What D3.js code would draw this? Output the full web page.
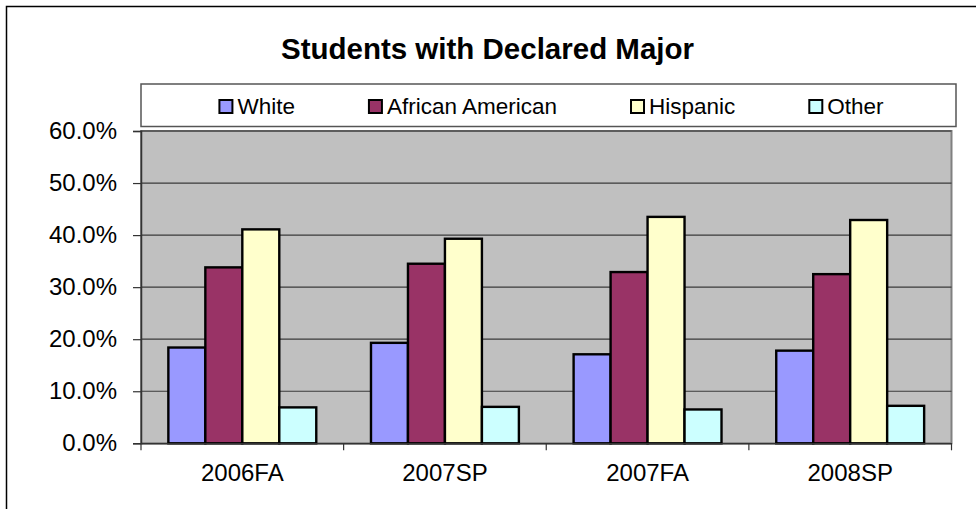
<!DOCTYPE html>
<html>
<head>
<meta charset="utf-8">
<script src="https://cdn.jsdelivr.net/npm/d3@7"></script>
<style>
  html, body { margin: 0; background: #fff; overflow: hidden; }
  svg { display: block; font-family: "Liberation Sans", Arial, sans-serif; }
</style>
</head>
<body>
<script>
var width = 976;
var height = 509;

// data
var categories = ["2006FA", "2007SP", "2007FA", "2008SP"];
var seriesNames = ["White", "African American", "Hispanic", "Other"];
var white = [18.4, 19.3, 17.1, 17.8];
var africanAmerican = [33.8, 34.5, 32.9, 32.5];
var hispanic = [41.1, 39.3, 43.5, 42.9];
var other = [6.9, 7.0, 6.5, 7.2];
var yTicks = [0, 10, 20, 30, 40, 50, 60];

var seriesValues = [white, africanAmerican, hispanic, other];
var colors = ["#9999FF", "#993366", "#FFFFCC", "#CCFFFF"];

var svg = d3.select("body")
    .append("svg")
    .attr("width", width)
    .attr("height", height);

// outer chart frame (cropped at right/bottom)
svg.append("rect")
    .attr("x", 6.5).attr("y", 6.5)
    .attr("width", 1000).attr("height", 600)
    .attr("fill", "#fff")
    .attr("stroke", "#000")
    .attr("stroke-width", 1.5);

var plot = { left: 141, right: 951.5, top: 131, bottom: 443.3 };

// title
svg.append("text")
    .attr("x", 487.5)
    .attr("y", 58.5)
    .attr("text-anchor", "middle")
    .attr("font-size", 29.5)
    .attr("font-weight", "bold")
    .text("Students with Declared Major");

// scales
var x0 = d3.scaleBand()
    .domain(categories)
    .range([plot.left, plot.right])
    .paddingInner(0)
    .paddingOuter(0);

var x1 = d3.scaleBand()
    .domain(seriesNames)
    .range([0, x0.bandwidth()])
    .paddingInner(0)
    .paddingOuter(0.74);

var yScale = d3.scaleLinear()
    .domain([0, 60])
    .range([plot.bottom, plot.top]);

// plot background
svg.append("rect")
    .attr("x", plot.left)
    .attr("y", plot.top)
    .attr("width", plot.right - plot.left)
    .attr("height", plot.bottom - plot.top)
    .attr("fill", "#C0C0C0")
    .attr("stroke", "#808080")
    .attr("stroke-width", 2);

// gridlines
svg.selectAll(".grid")
    .data(yTicks.filter(function (d) { return d > 0; }))
    .enter()
    .append("line")
    .attr("class", "grid")
    .attr("x1", plot.left)
    .attr("x2", plot.right)
    .attr("y1", function (d) { return yScale(d); })
    .attr("y2", function (d) { return yScale(d); })
    .attr("stroke", "#3a3a3a")
    .attr("stroke-width", 1.2);

// bars
var groups = svg.selectAll(".group")
    .data(categories)
    .enter()
    .append("g")
    .attr("class", "group")
    .attr("transform", function (d) { return "translate(" + x0(d) + ",0)"; });

groups.selectAll("rect")
    .data(function (d, i) {
        return seriesNames.map(function (s, j) {
            return { name: s, value: seriesValues[j][i], color: colors[j] };
        });
    })
    .enter()
    .append("rect")
    .attr("x", function (d) { return x1(d.name); })
    .attr("y", function (d) { return yScale(d.value); })
    .attr("width", x1.bandwidth())
    .attr("height", function (d) { return plot.bottom - yScale(d.value); })
    .attr("fill", function (d) { return d.color; })
    .attr("stroke", "#000")
    .attr("stroke-width", 2.4);

// y axis
var yAxis = d3.axisLeft(yScale)
    .tickValues(yTicks)
    .tickSize(8)
    .tickPadding(16)
    .tickFormat(function (d) { return d.toFixed(1) + "%"; });

var gy = svg.append("g")
    .attr("transform", "translate(" + plot.left + ",0)")
    .call(yAxis);
gy.select(".domain").attr("stroke", "#333").attr("stroke-width", 1.5);
gy.selectAll(".tick line").attr("stroke", "#333").attr("stroke-width", 1.2);
gy.selectAll(".tick text")
    .attr("font-size", 24)
    .attr("font-family", "Liberation Sans, Arial, sans-serif")
    .attr("fill", "#000");

// x axis: ticks at category boundaries, labels at centers
var xAxis = d3.axisBottom(x0).tickSize(0).tickPadding(38);
var gx = svg.append("g")
    .attr("transform", "translate(0," + plot.bottom + ")")
    .call(xAxis);
gx.select(".domain").attr("stroke", "#333").attr("stroke-width", 1.5);
gx.selectAll(".tick text")
    .attr("font-size", 24)
    .attr("font-family", "Liberation Sans, Arial, sans-serif")
    .attr("dy", "0")
    .attr("fill", "#000");

svg.selectAll(".xtick")
    .data(categories.concat(["end"]))
    .enter()
    .append("line")
    .attr("class", "xtick")
    .attr("x1", function (d, i) { return plot.left + i * x0.step(); })
    .attr("x2", function (d, i) { return plot.left + i * x0.step(); })
    .attr("y1", plot.bottom)
    .attr("y2", plot.bottom + 7)
    .attr("stroke", "#333")
    .attr("stroke-width", 1.2);

// legend
var legendBox = { left: 141, right: 956, top: 84, bottom: 126.5 };
svg.append("rect")
    .attr("x", legendBox.left)
    .attr("y", legendBox.top)
    .attr("width", legendBox.right - legendBox.left)
    .attr("height", legendBox.bottom - legendBox.top)
    .attr("fill", "#fff")
    .attr("stroke", "#555")
    .attr("stroke-width", 1.5);

var legend = svg.append("g");
var items = legend.selectAll(".item")
    .data(seriesNames)
    .enter()
    .append("g")
    .attr("class", "item");

items.append("rect")
    .attr("x", 0)
    .attr("y", 100)
    .attr("width", 13)
    .attr("height", 13)
    .attr("fill", function (d, i) { return colors[i]; })
    .attr("stroke", "#000")
    .attr("stroke-width", 2);

items.append("text")
    .attr("x", 18)
    .attr("y", 114)
    .attr("font-size", 22.5)
    .text(function (d) { return d; });

// lay legend items out using their measured widths
var gap = 74;
var pos = 0;
var offsets = [];
items.each(function () {
    offsets.push(pos);
    var w = 18 + d3.select(this).select("text").node().getComputedTextLength();
    pos += w + gap;
});
var total = pos - gap;
var start = (legendBox.left + legendBox.right) / 2 - total / 2 + 3;
items.attr("transform", function (d, i) { return "translate(" + (start + offsets[i]) + ",0)"; });
</script>
</body>
</html>
